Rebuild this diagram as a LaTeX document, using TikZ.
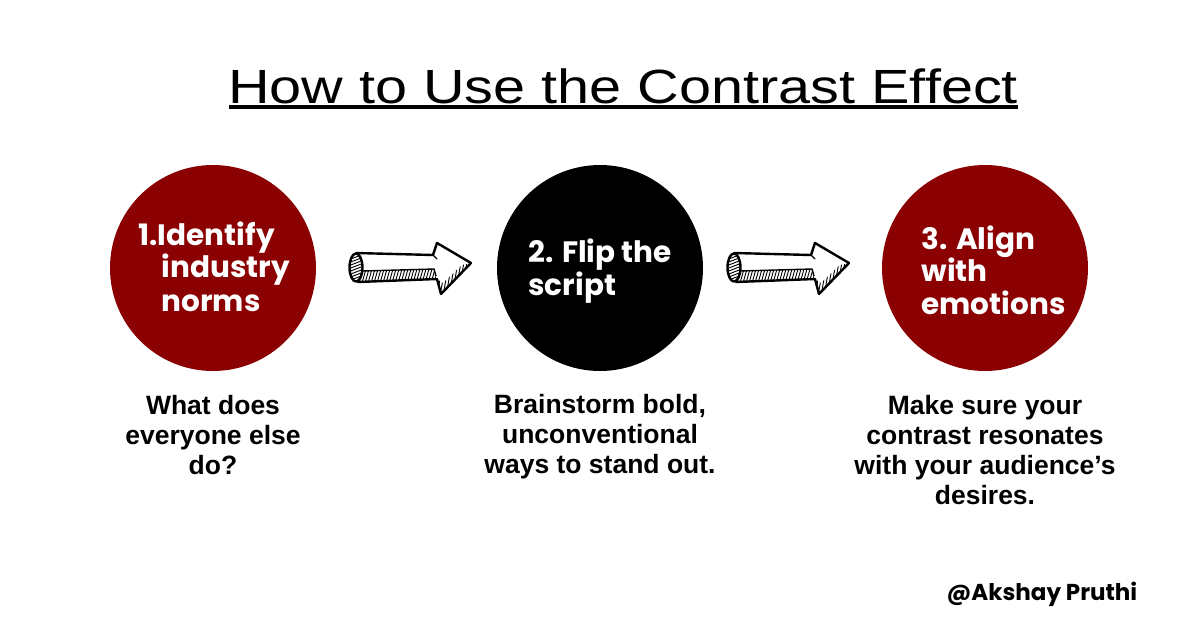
\documentclass[tikz,border=0pt]{standalone}
\usepackage{fontspec}
\setmainfont{Liberation Sans}
\newfontfamily\titlefont{Liberation Sans}
\newfontfamily\circfont{Poppins}
\definecolor{darkred}{HTML}{8B0000}
\tikzset{
  stepcircle/.style={circle, minimum size=206pt, inner sep=0pt},
  circtext/.style={text=white, font=\circfont\bfseries\fontsize{29.5}{32.5}\selectfont, align=left, anchor=west},
  desc/.style={font=\bfseries\fontsize{26.5}{30}\selectfont, align=center, text=black},
  sketch/.style={line width=2.4pt, line join=round, line cap=round},
  hatch/.style={line width=0.9pt},
}
\begin{document}
\begin{tikzpicture}[x=1pt,y=-1pt]
\useasboundingbox[fill=white] (0,0) rectangle (1200,630);
% title
\node[font=\titlefont\fontsize{48}{50}\selectfont, anchor=base] (title) at (623,103) {\scalebox{1.2}[1.0]{How to Use the Contrast Effect}};
\draw[line width=4pt] (229,107) -- (1018,107);
% circles
\node[stepcircle, fill=darkred] (c1) at (213,268) {};
\node[stepcircle, fill=black] (c2) at (600,268) {};
\node[stepcircle, fill=darkred] (c3) at (985,268) {};
% circle texts
\node[circtext] (t1a) at (135,238) {1.Identify};
\node[circtext] (t1b) at (158,270) {industry};
\node[circtext] (t1c) at (158,303) {norms};
\node[circtext] (t2) at (525,271) {2. Flip the\\script};
\node[circtext] (t3) at (918,270) {3. Align\\with\\emotions};
% arrows
\foreach \dx/\nm in {0/a1, 378/a2} {
\begin{scope}[xshift=\dx pt]
  \fill[white] (356,253) -- (433,255) -- (437,243) -- (471,263) -- (441,294) -- (437,279) -- (358,282) -- cycle;
  \begin{scope}
    \clip (360,271) -- (434,269) -- (437,279) -- (358,282) -- cycle;
    \foreach \x in {356,359,...,440} \draw[hatch] (\x,283) -- (\x+4,269);
  \end{scope}
  \begin{scope}
    \clip (437,279) -- (441,294) -- (471,263) -- (462,265) -- (443,283) -- cycle;
    \foreach \x in {434,437,...,472} \draw[hatch] (\x,296) -- (\x+6,262);
  \end{scope}
  \begin{scope}
    \clip (356,267.5) ellipse [x radius=6.5, y radius=14];
    \foreach \y in {248,251,...,286} \draw[hatch] (348,\y+6) -- (364,\y);
  \end{scope}
  \draw[sketch] (356,253) -- (433,255) -- (437,243) -- (471,263) -- (441,294) -- (437,279) -- (358,282);
  \draw[sketch] (356,267.5) ellipse [x radius=6.5, y radius=14];
  \draw[line width=1.4pt] (362,271) -- (434,269) -- (436,276);
  \draw[line width=1.4pt] (433,255) -- (437,259);
\end{scope}
}
% descriptions
\node[desc] (d1) at (213,435) {What does\\everyone else\\do?};
\node[desc] (d2) at (600,437) {Brainstorm bold,\\unconventional\\ways to stand out.};
\node[desc] (d3) at (985,450) {Make sure your\\contrast resonates\\with your audience’s\\desires.};
% signature
\node[font=\circfont\bfseries\fontsize{23}{24}\selectfont, anchor=west] (sig) at (943,594) {@Akshay Pruthi};
\end{tikzpicture}
\end{document}
